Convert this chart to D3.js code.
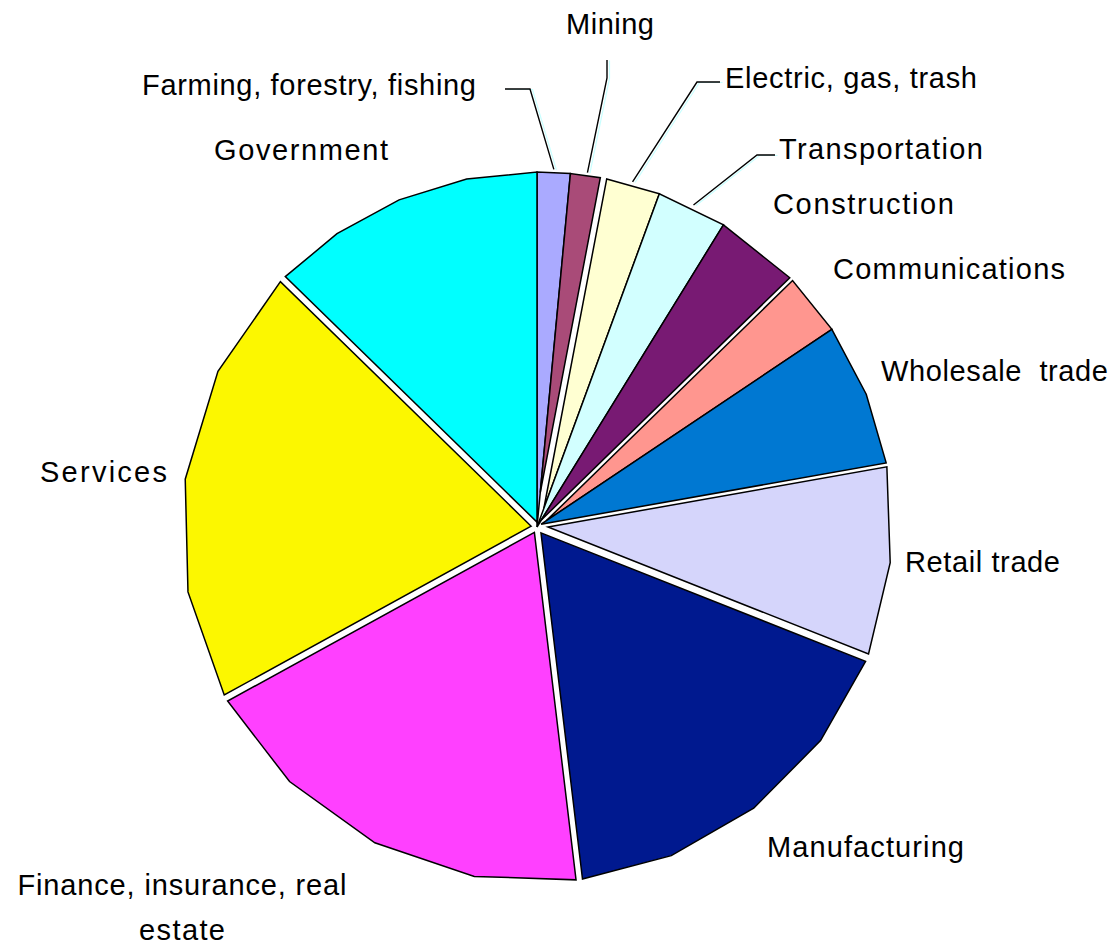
<!DOCTYPE html>
<html>
<head>
<meta charset="utf-8">
<script src="https://cdn.jsdelivr.net/npm/d3@7/dist/d3.min.js"></script>
<style>
  html, body { margin: 0; padding: 0; background: #ffffff; }
  svg { display: block; }
  text { font-family: "Liberation Sans", Arial, sans-serif; fill: #000; }
</style>
</head>
<body>
<svg id="chart" width="1112" height="947"></svg>
<script>
// Share of output by industry (percent), clockwise from 12 o'clock
const categories = [
  "Farming, forestry, fishing", "Mining", "Electric, gas, trash", "Transportation",
  "Construction", "Communications", "Wholesale trade", "Retail trade",
  "Manufacturing", "Finance, insurance, real estate", "Services", "Government"
];
const shares = [1.5, 1.5, 2.6, 3.2, 3.9, 2.9, 6.6, 8.8, 17.1, 18.9, 20.3, 12.7];

// Label text, split into lines as printed
const labelLines = [
  ["Farming, forestry, fishing"], ["Mining"], ["Electric, gas, trash"], ["Transportation"],
  ["Construction"], ["Communications"], ["Wholesale  trade"], ["Retail trade"],
  ["Manufacturing"], ["Finance, insurance, real", "estate"], ["Services"], ["Government"]
];

// ---- styling / layout ----
const sliceColors = [
  "#aaaaff", "#a94b78", "#ffffd2", "#d2ffff", "#781a73", "#ff968f",
  "#0078d2", "#d5d5fb", "#00198f", "#ff40ff", "#fcf700", "#00ffff"
];
// number of straight segments used to draw each slice's rim
const rimSegments = [1, 1, 1, 1, 1, 1, 2, 2, 4, 4, 4, 4];
// white separation (px) after each slice, between it and the next one
const gapAfter = [0, 6.5, 0, 0, 4, 0, 4, 8, 6.5, 7, 7, 0];

// label placement: x, baseline y, anchor, printed width of each line
const labelLayout = [
  { x: 142, y: 95,  anchor: "start",  w: [334] },
  { x: 566, y: 34,  anchor: "start",  w: [88] },
  { x: 725, y: 88,  anchor: "start",  w: [252] },
  { x: 779, y: 159, anchor: "start",  w: [204] },
  { x: 773, y: 214, anchor: "start",  w: [181] },
  { x: 833, y: 279, anchor: "start",  w: [232] },
  { x: 881, y: 381, anchor: "start",  w: [227] },
  { x: 905, y: 572, anchor: "start",  w: [155] },
  { x: 767, y: 857, anchor: "start",  w: [197] },
  { x: 182, y: 895, anchor: "middle", w: [329, 86], lineGap: 45 },
  { x: 40,  y: 482, anchor: "start",  w: [127] },
  { x: 214, y: 160, anchor: "start",  w: [174] }
];
// leader lines: label end and elbow, then to the slice rim
const leaders = [
  { slice: 0, pts: [[505, 89], [530, 89]] },
  { slice: 1, pts: [[607, 60], [607, 78]] },
  { slice: 2, pts: [[720, 82], [697, 82]] },
  { slice: 3, pts: [[775, 155], [757, 155]] }
];

const cx = 537, cy = 527, R = 355;
const n = shares.length;

const svg = d3.select("#chart");

const pie = d3.pie().sort(null).value(d => d).startAngle(0).endAngle(2 * Math.PI);
const arcs = pie(shares);

// radial scale: fraction of the radius -> pixels
const rScale = d3.scaleLinear().domain([0, 1]).range([0, R]);

const unit = a => [Math.sin(a), -Math.cos(a)];   // outward direction at angle a
const normal = a => [Math.cos(a), Math.sin(a)];  // clockwise perpendicular

function slicePoints(d, i) {
  const a0 = d.startAngle, a1 = d.endAngle;
  const h0 = gapAfter[(i - 1 + n) % n] / 2;
  const h1 = gapAfter[i] / 2;
  const u0 = unit(a0), n0 = normal(a0);
  const u1 = unit(a1), n1 = normal(a1);
  // apex: where the two (offset) straight edges meet
  const rx = -h1 * n1[0] - h0 * n0[0];
  const ry = -h1 * n1[1] - h0 * n0[1];
  const det = u1[0] * u0[1] - u0[0] * u1[1];
  const t = (-u1[1] * rx + u1[0] * ry) / det;
  const apex = [h0 * n0[0] + t * u0[0], h0 * n0[1] + t * u0[1]];
  const rad = rScale(1);
  const ts = Math.sqrt(rad * rad - h0 * h0);
  const te = Math.sqrt(rad * rad - h1 * h1);
  const pts = [apex, [h0 * n0[0] + ts * u0[0], h0 * n0[1] + ts * u0[1]]];
  const m = rimSegments[i];
  for (let k = 1; k < m; k++) {
    const a = a0 + (a1 - a0) * k / m;
    const u = unit(a);
    pts.push([rad * u[0], rad * u[1]]);
  }
  pts.push([-h1 * n1[0] + te * u1[0], -h1 * n1[1] + te * u1[1]]);
  return pts.map(p => [cx + p[0], cy + p[1]]);
}

const line = d3.line().curve(d3.curveLinearClosed);

svg.append("g")
  .selectAll("path")
  .data(arcs)
  .join("path")
  .attr("d", (d, i) => line(slicePoints(d, i)))
  .attr("fill", (d, i) => sliceColors[i])
  .attr("stroke", "#000")
  .attr("stroke-width", 1.5)
  .attr("stroke-linejoin", "miter")
  .attr("stroke-miterlimit", 4);

// leader lines
const openLine = d3.line();
const leaderG = svg.append("g").attr("fill", "none");
leaders.forEach(L => {
  const d = arcs[L.slice];
  const mid = (d.startAngle + d.endAngle) / 2;
  const u = unit(mid);
  const rr = rScale(1) + 3;
  const pts = L.pts.concat([[cx + rr * u[0], cy + rr * u[1]]]);
  leaderG.append("path")
    .attr("d", openLine(pts.map(p => [p[0] + 2.5, p[1] + 0.5])))
    .attr("stroke", "#c8ffff").attr("stroke-width", 1.2);
  leaderG.append("path")
    .attr("d", openLine(pts))
    .attr("stroke", "#000").attr("stroke-width", 1.4);
});

// category labels
const labelG = svg.append("g").attr("font-size", 29);
labelLines.forEach((lines, i) => {
  const L = labelLayout[i];
  lines.forEach((txt, j) => {
    labelG.append("text")
      .attr("x", L.x)
      .attr("y", L.y + j * (L.lineGap || 0))
      .attr("text-anchor", L.anchor)
      .attr("textLength", L.w[j])
      .attr("lengthAdjust", "spacing")
      .style("white-space", "pre")
      .text(txt);
  });
});
</script>
</body>
</html>
